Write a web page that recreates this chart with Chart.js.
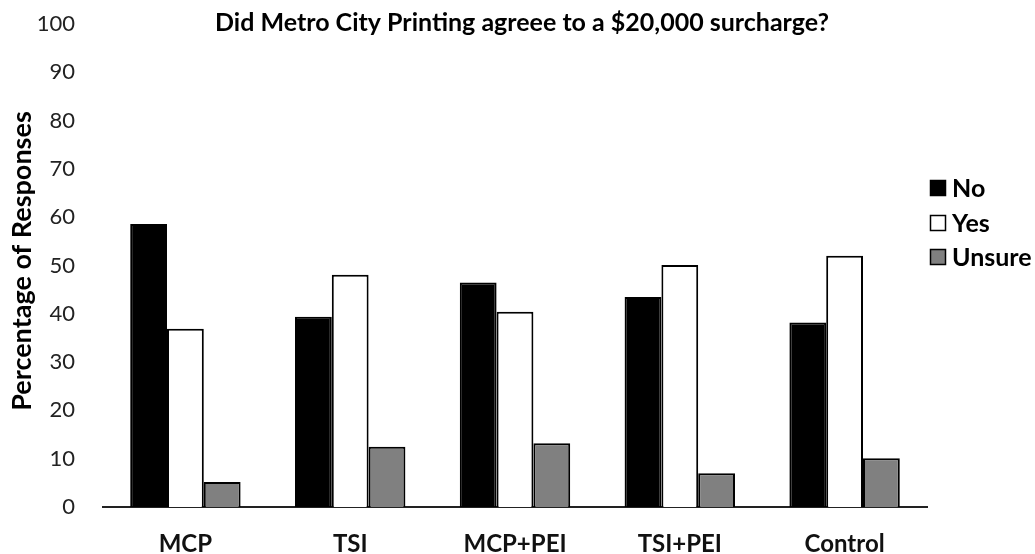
<!DOCTYPE html>
<html><head><meta charset="utf-8">
<script src="https://cdn.jsdelivr.net/npm/chart.js@4/dist/chart.umd.min.js"></script>
<style>html,body{margin:0;padding:0;background:#fff;}canvas{display:block;}</style>
</head><body>
<canvas id="c" width="1035" height="554"></canvas>
<script>
const categories = ['MCP', 'TSI', 'MCP+PEI', 'TSI+PEI', 'Control'];
const seriesNames = ['No', 'Yes', 'Unsure'];
const noValues = [58.6, 39.4, 46.5, 43.5, 38.2];
const yesValues = [36.9, 48.1, 40.4, 50.1, 52.0];
const unsureValues = [5.2, 12.5, 13.2, 7.0, 10.1];
const yTickValues = [0, 10, 20, 30, 40, 50, 60, 70, 80, 90, 100];
const chartTitle = 'Did Metro City Printing agreee to a $20,000 surcharge?';
const yAxisTitle = 'Percentage of Responses';

const FONT = 'Lato, "Open Sans", sans-serif';
const fills = ['#000000', '#ffffff', '#808080'];

const decor = {
  id: 'decor',
  afterDraw(chart) {
    const ctx = chart.ctx;
    ctx.save();
    ctx.fillStyle = '#000';
    ctx.font = 'bold 25px ' + FONT;
    ctx.textAlign = 'center';
    ctx.textBaseline = 'middle';
    ctx.fillText(chartTitle, 522, 23);
    ctx.save();
    ctx.translate(22, 261);
    ctx.rotate(-Math.PI / 2);
    ctx.font = 'bold 27px ' + FONT;
    ctx.fillText(yAxisTitle, 0, 0);
    ctx.restore();
    // legend
    const ys = [188, 223, 257];
    chart.data.datasets.forEach((ds, i) => {
      ctx.fillStyle = ds.backgroundColor;
      ctx.fillRect(930, ys[i] - 8, 16, 16);
      ctx.strokeStyle = '#000';
      ctx.lineWidth = 1.5;
      ctx.strokeRect(930.5, ys[i] - 7.5, 15, 15);
      ctx.fillStyle = '#000';
      ctx.font = 'bold 25px ' + FONT;
      ctx.textAlign = 'left';
      ctx.fillText(ds.label, 952, ys[i] + 1);
    });
    ctx.restore();
  }
};

new Chart(document.getElementById('c'), {
  type: 'bar',
  data: {
    labels: categories,
    datasets: [noValues, yesValues, unsureValues].map((vals, i) => ({
      label: seriesNames[i],
      data: vals,
      backgroundColor: fills[i],
      borderColor: '#000',
      borderWidth: 2,
      categoryPercentage: 0.67,
      barPercentage: 1.0
    }))
  },
  options: {
    responsive: false,
    animation: false,
    layout: { padding: { top: 24, right: 108, left: 0, bottom: 0 } },
    plugins: { legend: { display: false }, title: { display: false }, tooltip: { enabled: false } },
    scales: {
      x: {
        grid: { display: false, drawTicks: false },
        border: { display: true, color: '#222', width: 2 },
        ticks: { color: '#111', font: { family: FONT, size: 24, weight: 'bold' }, padding: 23 },
        afterFit(s) { s.height = 47; }
      },
      y: {
        min: 0, max: 100,
        afterBuildTicks(s) { s.ticks = yTickValues.map(v => ({ value: v })); },
        grid: { display: false, drawTicks: false },
        border: { display: false },
        ticks: { color: '#222', font: { family: FONT, size: 22 }, padding: 28 },
        afterFit(s) { s.width = 103; s.paddingTop = 0; s.paddingBottom = 0; }
      }
    }
  },
  plugins: [decor]
});
</script>
</body></html>
